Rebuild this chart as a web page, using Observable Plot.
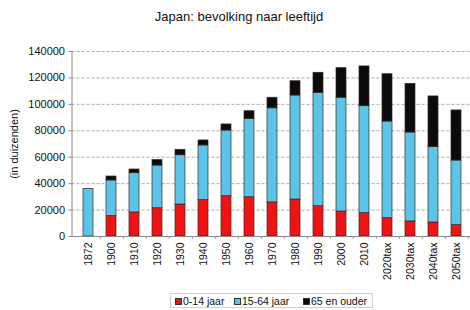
<!DOCTYPE html>
<html>
<head>
<meta charset="utf-8">
<script src="https://cdn.jsdelivr.net/npm/d3@7"></script>
<script src="https://cdn.jsdelivr.net/npm/@observablehq/plot@0.6"></script>
<style>
  html, body { margin: 0; padding: 0; background: #fff; }
  #wrap { position: relative; width: 470px; height: 310px; overflow: hidden; font-family: "Liberation Sans", Arial, sans-serif; color: #111; }
  #title { position: absolute; left: 4px; top: 9px; width: 470px; text-align: center; font-size: 13px; line-height: 15px; }
  #chart { position: absolute; left: 0; top: 0; }
  #legend { position: absolute; left: 170px; top: 293px; width: 203px; height: 15px; border: 1px solid #cfcfcf; box-sizing: border-box; font-size: 10.5px; }
  .item { position: absolute; top: 1px; line-height: 12px; white-space: nowrap; }
  .sw { display: inline-block; width: 5px; height: 5px; border: 1px solid #333; margin-right: 1px; vertical-align: 0px; }
</style>
</head>
<body>
<div id="wrap">
  <div id="chart"></div>
  <div id="title">Japan: bevolking naar leeftijd</div>
  <div id="legend"></div>
</div>
<script>
const categories = ["1872","1900","1910","1920","1930","1940","1950","1960","1970","1980","1990","2000","2010","2020tax","2030tax","2040tax","2050tax"];
const age0_14   = [0, 15400, 18200, 21400, 24200, 27500, 30500, 29700, 25800, 28000, 22900, 18900, 17700, 13900, 11400, 10600, 8600];
const age15_64  = [36000, 27000, 29700, 32300, 37300, 41400, 49700, 59300, 71200, 78700, 85800, 86100, 80900, 73100, 67300, 57000, 48900];
const age65plus = [0, 3000, 2800, 4100, 4100, 3800, 4600, 5800, 8000, 10800, 15200, 22400, 30100, 35800, 36800, 38400, 37900];
const seriesNames = ["0-14 jaar", "15-64 jaar", "65 en ouder"];
const seriesColors = ["#f01313", "#5cc4e8", "#0b0b0b"];
const yTicks = [0, 20000, 40000, 60000, 80000, 100000, 120000, 140000];

const seriesValues = [age0_14, age15_64, age65plus];
const data = categories.flatMap((c, i) =>
  seriesNames.map((s, k) => ({cat: c, group: s, value: seriesValues[k][i]}))
).filter(d => d.value > 0);

const chart = Plot.plot({
  width: 470,
  height: 310,
  marginLeft: 71.5,
  marginRight: -2.4,
  marginTop: 51,
  marginBottom: 74,
  style: {fontFamily: "'Liberation Sans', Arial, sans-serif", fontSize: "11px", color: "#111", background: "transparent"},
  x: {domain: categories, paddingInner: 0.55, paddingOuter: 0.275, label: null},
  y: {domain: [0, 140000], label: null},
  color: {domain: seriesNames, range: seriesColors},
  marks: [
    Plot.gridY(yTicks, {stroke: "#a2a2a2", strokeOpacity: 0.9, strokeDasharray: "3,2"}),
    Plot.barY(data, {x: "cat", y: "value", fill: "group", stroke: "#3a2525", strokeWidth: 0.7}),
    Plot.ruleY([0], {stroke: "#888"}),
    Plot.frame({anchor: "left", stroke: "#888"}),
    Plot.axisY(yTicks, {tickFormat: d => String(d), tickSize: 3, tickPadding: 4, fontSize: 11, stroke: "#888",
      label: "(in duizenden)", labelAnchor: "center", labelArrow: "none", labelOffset: 62}),
    Plot.axisX({tickRotate: -90, tickSize: 0, tickPadding: 6, fontSize: 10.5, label: null}),
    Plot.axisX({tickSize: 3, fill: "none", stroke: "#999", dx: 11.79, label: null})
  ]
});
document.getElementById("chart").appendChild(chart);

const legendPos = [[4, 11], [63, 69], [132, 138]];
const legend = document.getElementById("legend");
seriesNames.forEach((s, k) => {
  const it = document.createElement("div");
  it.className = "item";
  it.style.left = legendPos[k][0] + "px";
  const sw = document.createElement("span");
  sw.className = "sw";
  sw.style.background = seriesColors[k];
  it.appendChild(sw);
  it.appendChild(document.createTextNode(s));
  legend.appendChild(it);
});
</script>
</body>
</html>
